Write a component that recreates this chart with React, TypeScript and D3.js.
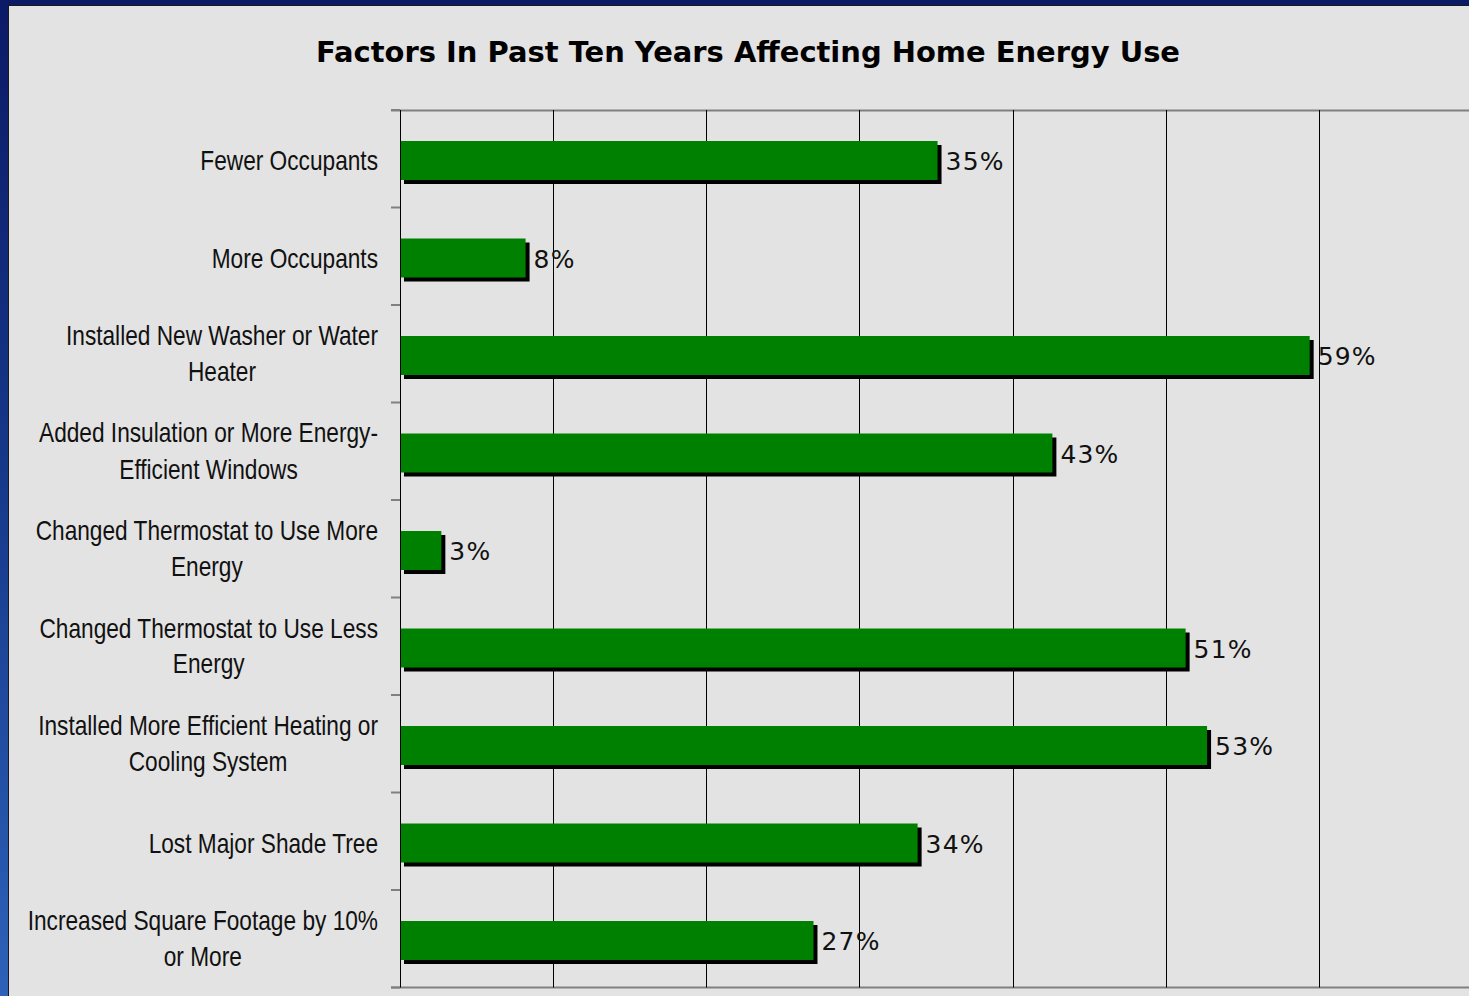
import * as d3 from "d3";
import { useLayoutEffect, useRef, useState } from "react";

const title = "Factors In Past Ten Years Affecting Home Energy Use";

const categories = [
  "Fewer Occupants",
  "More Occupants",
  "Installed New Washer or Water\nHeater",
  "Added Insulation or More Energy-\nEfficient Windows",
  "Changed Thermostat to Use More\nEnergy",
  "Changed Thermostat to Use Less\nEnergy",
  "Installed More Efficient Heating or\nCooling System",
  "Lost Major Shade Tree",
  "Increased Square Footage by 10%\nor More",
];

// percent of respondents (label shows rounded value)
const shares = [35.1, 8.2, 59.4, 42.6, 2.7, 51.3, 52.7, 33.8, 27.0];

const xTicks = [0, 10, 20, 30, 40, 50, 60, 70];

const W = 1469;
const H = 996;
const plot = { left: 400, top: 110, bottom: 987.5, right: 1472 };
const labelRight = 378;
const narrow = 0.81; // Arial Narrow ~ Arial squeezed horizontally

const fmt = (v: number) => d3.format(".0f")(v) + "%";

export default function App() {
  const labelRefs = useRef<(SVGTextElement | null)[]>([]);
  const [widths, setWidths] = useState<number[]>(categories.map(() => 0));

  useLayoutEffect(() => {
    const w = labelRefs.current.map((t) => {
      if (!t) return 0;
      let m = 0;
      t.querySelectorAll("tspan").forEach((s) => {
        m = Math.max(m, (s as SVGTextContentElement).getComputedTextLength());
      });
      return m * narrow;
    });
    setWidths(w);
  }, []);

  const x = d3.scaleLinear().domain([0, 70]).range([plot.left, plot.right]);
  const y = d3
    .scaleBand<string>()
    .domain(categories)
    .range([plot.top, plot.bottom])
    .paddingInner(0.6)
    .paddingOuter(0.3)
    .align(0.53);

  const step = y.step();
  const bw = y.bandwidth();
  const boundaries = d3.range(categories.length + 1).map((i) => plot.top + i * step);

  return (
    <>
      <style>{"body{margin:0}"}</style>
      <svg width={W} height={H} style={{ display: "block" }}>
        <defs>
          <linearGradient id="slide" x1="0" y1="0" x2="0" y2="1">
            <stop offset="0" stopColor="#0b1a66" />
            <stop offset="0.5" stopColor="#173a8c" />
            <stop offset="1" stopColor="#2d62b8" />
          </linearGradient>
        </defs>
        <rect width={W} height={H} fill="url(#slide)" />
        <rect x={8.5} y={5.5} width={W + 10} height={H + 10} fill="#e3e3e3" stroke="#1a1a1a" />

        <text
          x={748}
          y={62}
          textAnchor="middle"
          fontFamily="DejaVu Sans, Verdana, sans-serif"
          fontWeight="bold"
          fontSize={28}
          textLength={864}
          lengthAdjust="spacingAndGlyphs"
          fill="#000"
        >
          {title}
        </text>

        {/* plot frame */}
        <line x1={391} x2={W} y1={plot.top + 0.5} y2={plot.top + 0.5} stroke="#808080" strokeWidth={2} />
        <line x1={391} x2={W} y1={plot.bottom} y2={plot.bottom} stroke="#808080" strokeWidth={2} />

        {xTicks.slice(1).map((t) => (
          <line
            key={t}
            x1={Math.round(x(t)) + 0.5}
            x2={Math.round(x(t)) + 0.5}
            y1={plot.top}
            y2={plot.bottom}
            stroke="#000"
          />
        ))}

        {boundaries.map((b, i) => (
          <line key={i} x1={391} x2={plot.left} y1={b} y2={b} stroke="#808080" strokeWidth={2} />
        ))}

        {categories.map((c, i) => {
          const y0 = y(c)!;
          const x1 = x(shares[i]);
          return (
            <g key={c}>
              <rect x={plot.left + 4} y={y0 + 4} width={x1 - plot.left} height={bw} fill="#000" />
              <rect x={plot.left} y={y0} width={x1 - plot.left} height={bw} fill="#008000" />
              <text
                x={x1 + 8}
                y={y0 + bw / 2 + 1}
                dominantBaseline="central"
                fontFamily="DejaVu Sans, Verdana, sans-serif"
                fontSize={25}
                letterSpacing={1.2}
                fill="#111"
              >
                {fmt(shares[i])}
              </text>
            </g>
          );
        })}

        <line x1={plot.left + 0.5} x2={plot.left + 0.5} y1={plot.top} y2={plot.bottom} stroke="#000" />

        {categories.map((c, i) => {
          const lines = c.split("\n");
          const cy = y(c)! + bw / 2 - (lines.length > 1 ? 2.5 : 0);
          const cx = labelRight - widths[i] / 2;
          const lh = 36;
          return (
            <text
              key={c}
              ref={(el) => {
                labelRefs.current[i] = el;
              }}
              transform={`translate(${cx},0) scale(${narrow},1)`}
              textAnchor="middle"
              fontFamily="Liberation Sans, Arial, sans-serif"
              fontSize={28}
              fill="#111"
            >
              {lines.map((l, j) => (
                <tspan key={j} x={0} y={cy + (j - (lines.length - 1) / 2) * lh + 10}>
                  {l}
                </tspan>
              ))}
            </text>
          );
        })}
      </svg>
    </>
  );
}
